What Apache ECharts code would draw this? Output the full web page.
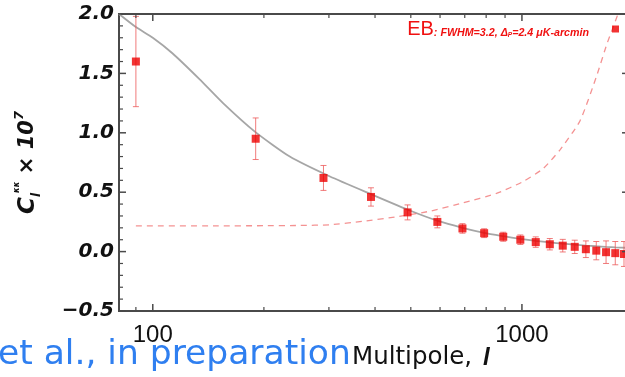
<!DOCTYPE html>
<html><head><meta charset="utf-8">
<script src="https://cdn.jsdelivr.net/npm/echarts@6/dist/echarts.min.js"></script>
<style>html,body{margin:0;padding:0;background:#fff}#c{width:625px;height:377px}</style>
</head><body><div id="c"></div>
<script>
// Binned EB lensing reconstruction band powers (C_l^kk x 10^7)
const multipoles = [90, 190, 290, 390, 490, 590, 690, 790, 890, 990, 1090, 1190, 1290, 1390, 1490, 1590, 1690, 1790, 1890];
const clValues   = [1.60, 0.95, 0.62, 0.46, 0.33, 0.25, 0.195, 0.155, 0.125, 0.10, 0.08, 0.062, 0.05, 0.04, 0.02, 0.008, -0.005, -0.013, -0.02];
const clErrors   = [0.38, 0.175, 0.105, 0.077, 0.063, 0.05, 0.04, 0.037, 0.038, 0.04, 0.044, 0.048, 0.053, 0.056, 0.07, 0.077, 0.095, 0.098, 0.105];
// Theory curve (grey)
const theoryL  = [81, 90, 100, 113, 134, 155, 189, 235, 302, 394, 497, 590, 690, 790, 890, 990, 1090, 1190, 1290, 1390, 1490, 1590, 1690, 1790, 1950];
const theoryCl = [2.0, 1.89, 1.80, 1.67, 1.45, 1.25, 1.01, 0.80, 0.632, 0.478, 0.346, 0.26, 0.2, 0.158, 0.13, 0.107, 0.09, 0.077, 0.067, 0.058, 0.051, 0.045, 0.04, 0.036, 0.031];
// Noise curve (red dashed)
const noiseL  = [90, 150, 200, 250, 302, 371, 457, 563, 693, 853, 1008, 1143, 1268, 1436, 1594, 1700, 1820, 1900];
const noiseCl = [0.217, 0.217, 0.218, 0.22, 0.226, 0.255, 0.293, 0.34, 0.41, 0.49, 0.59, 0.70, 0.857, 1.10, 1.48, 1.75, 2.0, 2.2];
// Axis ticks and labels
const xMajorTicks = [100, 1000];
const xMinorTicks = [90, 200, 300, 400, 500, 600, 700, 800, 900];
const yMajorTicks = [-0.5, 0.0, 0.5, 1.0, 1.5, 2.0];
const yMinorTicks = [-0.4, -0.3, -0.2, -0.1, 0.1, 0.2, 0.3, 0.4, 0.6, 0.7, 0.8, 0.9, 1.1, 1.2, 1.3, 1.4, 1.6, 1.7, 1.8, 1.9];
const yTickLabels = ['−0.5', '0.0', '0.5', '1.0', '1.5', '2.0'];
const legendLabel = 'EB';
const X_MIN = 81, X_MAX = 1950, Y_MIN = -0.5, Y_MAX = 2.0;

const chart = echarts.init(document.getElementById('c'), null, {renderer: 'canvas'});
const frameColor = '#4a4a4a';

const points = multipoles.map((l, i) => [l, clValues[i], clErrors[i]]);
// tick items: [xValue, yValue, isMajor, isXTick]
const tickItems = []
  .concat(xMajorTicks.map(v => [v, Y_MIN, 1, 1]))
  .concat(xMinorTicks.map(v => [v, Y_MIN, 0, 1]))
  .concat(yMajorTicks.map(v => [X_MIN, v, 1, 0]))
  .concat(yMinorTicks.map(v => [X_MIN, v, 0, 0]));

chart.setOption({
  animation: false,
  backgroundColor: '#fff',
  grid: {left: 119, top: 14, width: 510, height: 297, outerBoundsMode: 'none',
         show: true, borderColor: frameColor, borderWidth: 2, backgroundColor: 'rgba(0,0,0,0)'},
  xAxis: {
    type: 'log', logBase: 10, min: X_MIN, max: X_MAX, position: 'bottom',
    axisLine: {show: true, onZero: false, lineStyle: {color: frameColor, width: 2}},
    axisTick: {show: false},
    axisLabel: {show: true, showMinLabel: false, showMaxLabel: false, margin: 12,
                fontFamily: 'Liberation Sans', fontSize: 24, color: '#111', formatter: v => String(Math.round(v))},
    splitLine: {show: false}
  },
  yAxis: {
    type: 'value', min: Y_MIN, max: Y_MAX, interval: 0.5, position: 'left',
    axisLine: {show: true, onZero: false, lineStyle: {color: frameColor, width: 2}},
    axisTick: {show: false},
    axisLabel: {
      show: true, margin: 5, fontFamily: 'DejaVu Sans', fontWeight: 'bold', fontStyle: 'italic', fontSize: 20, color: '#111',
      formatter: v => yTickLabels[Math.round((v - Y_MIN) / 0.5)]
    },
    splitLine: {show: false},
    name: '{c|C}{l|l}{k|κκ}{x| × 10}{s|7}',
    nameLocation: 'middle', nameGap: 76, nameRotate: 90,
    nameTextStyle: {
      color: '#111', fontFamily: 'DejaVu Sans', fontWeight: 'bold', fontStyle: 'italic',
      rich: {
        c: {fontSize: 23, fontFamily: 'DejaVu Sans', fontWeight: 'bold', fontStyle: 'italic', color: '#111', lineHeight: 30, verticalAlign: 'middle'},
        l: {fontSize: 12, fontFamily: 'DejaVu Sans', fontWeight: 'bold', fontStyle: 'italic', color: '#111', verticalAlign: 'bottom', lineHeight: 30},
        k: {fontSize: 8, fontFamily: 'DejaVu Sans', fontWeight: 'bold', color: '#111', verticalAlign: 'top', lineHeight: 30},
        x: {fontSize: 21, fontFamily: 'DejaVu Sans', fontWeight: 'bold', fontStyle: 'italic', color: '#111', verticalAlign: 'middle', lineHeight: 30},
        s: {fontSize: 13, fontFamily: 'DejaVu Sans', fontWeight: 'bold', fontStyle: 'italic', color: '#111', verticalAlign: 'top', lineHeight: 30}
      }
    }
  },
  legend: {
    data: [{name: legendLabel, icon: 'rect'}],
    align: 'right', right: 6, top: 19, padding: 0,
    itemWidth: 7, itemHeight: 7,
    formatter: () => '{eb|EB}{d|: FWHM=3.2, Δ}{p|P}{d|=2.4 μK-arcmin}{g|}',
    textStyle: {
      rich: {
        eb: {fontFamily: 'Liberation Sans', fontSize: 20, color: '#f01010', verticalAlign: 'bottom', lineHeight: 20},
        d: {fontFamily: 'Liberation Sans', fontSize: 10.7, fontWeight: 'bold', fontStyle: 'italic', color: '#f01010', verticalAlign: 'bottom', lineHeight: 16},
        p: {fontFamily: 'Liberation Sans', fontSize: 6.5, fontWeight: 'bold', fontStyle: 'italic', color: '#f01010', verticalAlign: 'bottom', lineHeight: 14},
        g: {width: 18, fontSize: 9}
      }
    }
  },
  graphic: [
    {type: 'text', x: -2, y: 355, style: {text: 'et al., in preparation', fontFamily: 'DejaVu Sans', fontSize: 34.5,
      fill: '#2f7ff0', align: 'left', verticalAlign: 'middle', textAlign: 'left', textVerticalAlign: 'middle'}},
    {type: 'text', x: 352, y: 358, style: {text: 'Multipole,', fontFamily: 'DejaVu Sans', fontSize: 24.5,
      fill: '#111', align: 'left', verticalAlign: 'middle', textAlign: 'left', textVerticalAlign: 'middle'}},
    {type: 'text', x: 483, y: 358, style: {text: 'l', fontFamily: 'Liberation Sans', fontSize: 24, fontWeight: 'bold', fontStyle: 'italic',
      fill: '#111', align: 'left', verticalAlign: 'middle', textAlign: 'left', textVerticalAlign: 'middle'}}
  ],
  series: [
    {
      type: 'line', name: 'theory', smooth: 0.2, showSymbol: false, silent: true,
      data: theoryL.map((l, i) => [l, theoryCl[i]]),
      lineStyle: {color: '#a6a6a6', width: 1.8}, z: 2
    },
    {
      type: 'line', name: 'noise', smooth: 0.2, showSymbol: false, silent: true,
      data: noiseL.map((l, i) => [l, noiseCl[i]]),
      lineStyle: {color: 'rgba(240,110,110,0.75)', width: 1.3, type: [6, 5]}, z: 2
    },
    {
      type: 'custom', name: 'errors', clip: true, silent: true, z: 3,
      data: points,
      renderItem: (params, api) => {
        const l = api.value(0), v = api.value(1), e = api.value(2);
        const top = api.coord([l, v + e]);
        const bot = api.coord([l, v - e]);
        const st = {stroke: 'rgba(236,90,90,0.8)', lineWidth: 1};
        return {type: 'group', children: [
          {type: 'line', shape: {x1: top[0], y1: top[1], x2: bot[0], y2: bot[1]}, style: st},
          {type: 'line', shape: {x1: top[0] - 3, y1: top[1], x2: top[0] + 3, y2: top[1]}, style: st},
          {type: 'line', shape: {x1: bot[0] - 3, y1: bot[1], x2: bot[0] + 3, y2: bot[1]}, style: st}
        ]};
      }
    },
    {
      // inward tick marks on all four sides of the frame, placed through the axis scales
      type: 'custom', name: 'frameTicks', clip: false, silent: true, z: 5,
      data: tickItems,
      renderItem: (params, api) => {
        const cs = params.coordSys;
        const major = api.value(2) === 1, isX = api.value(3) === 1;
        const len = major ? 7 : 4;
        const st = {stroke: frameColor, lineWidth: major ? 1.5 : 1.2};
        if (isX) {
          const px = api.coord([api.value(0), Y_MIN])[0];
          const yb = cs.y + cs.height, yt = cs.y;
          return {type: 'group', children: [
            {type: 'line', shape: {x1: px, y1: yb, x2: px, y2: yb - len}, style: st},
            {type: 'line', shape: {x1: px, y1: yt, x2: px, y2: yt + len}, style: st}
          ]};
        }
        const py = api.coord([X_MIN, api.value(1)])[1];
        const xl = cs.x, xr = cs.x + cs.width;
        return {type: 'group', children: [
          {type: 'line', shape: {x1: xl, y1: py, x2: xl + len, y2: py}, style: st},
          {type: 'line', shape: {x1: xr, y1: py, x2: xr - len, y2: py}, style: st}
        ]};
      }
    },
    {
      type: 'scatter', name: legendLabel, symbol: 'rect', symbolSize: 8, z: 4,
      data: points.map(p => [p[0], p[1]]),
      itemStyle: {color: '#ee0000'}
    }
  ]
});
</script></body></html>
